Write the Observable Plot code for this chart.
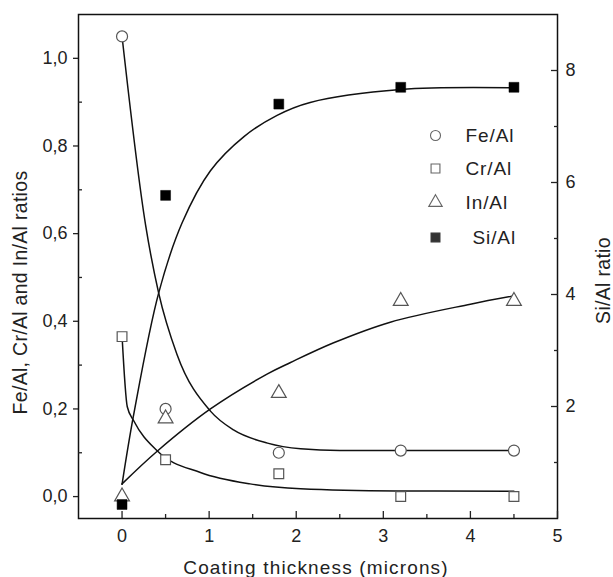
<!DOCTYPE html>
<html><head><meta charset="utf-8">
<script src="https://cdn.jsdelivr.net/npm/d3@7"></script>
<script src="https://cdn.jsdelivr.net/npm/@observablehq/plot@0.6"></script>
<style>body{margin:0;background:#fff} #chart svg{display:block}</style>
</head><body><div id="chart"></div>
<script>
// measured data points
const thickness = [0, 0.5, 1.8, 3.2, 4.5];
const feAl = [1.05, 0.20, 0.10, 0.105, 0.105];
const crAl = [0.365, 0.084, 0.052, 0.0, 0.0];
const inAl = [0.0, 0.178, 0.236, 0.446, 0.446];
const siAl = [0.25, 5.77, 7.40, 7.70, 7.70];   // right axis

// fitted curves
const feFitX = [0, 0.27, 0.42, 0.63, 1.015, 1.28, 1.67, 2.05, 2.5, 3.2, 4.5];
const feFitY = [1.05, 0.62, 0.465, 0.325, 0.195, 0.152, 0.122, 0.109, 0.105, 0.105, 0.105];
const crFitX = [0, 0.06, 0.134, 0.40, 0.9, 1.47, 2.05, 3.16, 4.5];
const crFitY = [0.367, 0.205, 0.173, 0.105, 0.055, 0.029, 0.018, 0.013, 0.012];
const inFitX = [0, 0.4, 1.015, 1.67, 1.935, 2.43, 3.08, 4.0, 4.5];
const inFitY = [0.029, 0.103, 0.2, 0.28, 0.306, 0.351, 0.398, 0.439, 0.458];
const siFitX = [0, 0.133, 0.421, 0.69, 1.015, 1.40, 1.78, 2.16, 3.2, 4.5];
const siFitY = [0.61, 1.85, 4.03, 5.28, 6.21, 6.82, 7.20, 7.43, 7.66, 7.69]; // right axis

// axes
const xMajor = [0, 1, 2, 3, 4, 5];
const xMinor = [0.5, 1.5, 2.5, 3.5, 4.5];
const xTickLabels = ["0", "1", "2", "3", "4", "5"];
const yMajor = [0, 0.2, 0.4, 0.6, 0.8, 1.0];
const yMinor = [0.1, 0.3, 0.5, 0.7, 0.9];
const yTickLabels = ["0,0", "0,2", "0,4", "0,6", "0,8", "1,0"];
const rMajor = [2, 4, 6, 8];
const rMinor = [1, 3, 5, 7];
const rTickLabels = ["2", "4", "6", "8"];
const xLabel = "Coating thickness (microns)";
const yLabel = "Fe/Al, Cr/Al and In/Al ratios";
const rLabel = "Si/Al ratio";
const legendLabels = ["Fe/Al", "Cr/Al", "In/Al", "Si/Al"];

const yMin = -0.05, yMax = 1.1, rMax = 9;
const toLeft = v => yMin + v * (yMax - yMin) / rMax;
const pts = (xs, ys) => xs.map((x, i) => ({x, y: ys[i]}));

const font = "Liberation Sans, Arial, sans-serif";
const lineStyle = {x: "x", stroke: "#111", strokeWidth: 1.5};
const hollow = {fill: "white", stroke: "#555", strokeWidth: 1.2, r: 5.5};
const txt = {fontFamily: font, fill: "#222", lineAnchor: "middle"};

const marks = [
  Plot.frame({stroke: "#111", strokeWidth: 1.5}),
  // ticks
  Plot.axisX(xMajor, {tickSize: 7, dy: -7, text: null, label: null, strokeWidth: 1.3}),
  Plot.axisX(xMinor, {tickSize: 4, dy: -4, text: null, label: null, strokeWidth: 1.3}),
  Plot.axisY(yMajor, {anchor: "left", tickSize: 5, text: null, label: null, strokeWidth: 1.3}),
  Plot.axisY(yMinor, {anchor: "left", tickSize: 4, dx: 4, text: null, label: null, strokeWidth: 1.3}),
  Plot.axisY(rMajor.map(toLeft), {anchor: "right", tickSize: 7, dx: -7, text: null, label: null, strokeWidth: 1.3}),
  Plot.axisY(rMinor.map(toLeft), {anchor: "right", tickSize: 4, dx: -4, text: null, label: null, strokeWidth: 1.3}),
  // tick labels
  Plot.text(xMajor, {x: d => d, text: (d, i) => xTickLabels[i], frameAnchor: "bottom", dy: 18, textAnchor: "middle", fontSize: 18, ...txt}),
  Plot.text(yMajor, {y: d => d, text: (d, i) => yTickLabels[i], frameAnchor: "left", dx: -11, textAnchor: "end", fontSize: 18, ...txt}),
  Plot.text(rMajor, {y: d => toLeft(d), text: (d, i) => rTickLabels[i], frameAnchor: "right", dx: 8, textAnchor: "start", fontSize: 18, ...txt}),
  // axis titles
  Plot.text([xLabel], {x: null, y: null, text: d => d, frameAnchor: "bottom", dy: 49, dx: -2, textAnchor: "middle", fontSize: 19, ...txt}),
  Plot.text([yLabel], {x: null, y: null, text: d => d, frameAnchor: "left", dx: -58, dy: 26, rotate: -90, textAnchor: "middle", fontSize: 19.5, ...txt}),
  Plot.text([rLabel], {x: null, y: null, text: d => d, frameAnchor: "right", dx: 46, dy: 14, rotate: -90, textAnchor: "middle", fontSize: 19.5, ...txt}),
  // fitted curves
  Plot.line(pts(feFitX, feFitY), {...lineStyle, y: "y", curve: "monotone-x"}),
  Plot.line(pts(crFitX, crFitY), {...lineStyle, y: "y", curve: "monotone-x"}),
  Plot.line(pts(inFitX, inFitY), {...lineStyle, y: "y", curve: "catmull-rom"}),
  Plot.line(pts(siFitX, siFitY), {...lineStyle, y: d => toLeft(d.y), curve: "catmull-rom"}),
  // data points
  Plot.dot(pts(thickness, feAl), {x: "x", y: "y", symbol: "circle", ...hollow}),
  Plot.dot(pts(thickness, crAl), {x: "x", y: "y", symbol: "square", ...hollow}),
  Plot.dot(pts(thickness, inAl), {x: "x", y: "y", symbol: "triangle", ...hollow}),
  Plot.dot(pts(thickness, siAl), {x: "x", y: d => toLeft(d.y), symbol: "square", r: 5.6, fill: "#000", stroke: "#000", strokeWidth: 0.5})
];

// legend
const legendSymbols = ["circle", "square", "triangle", "square"];
const legendDy = [121, 154, 188, 223];
const legendTextDx = [387, 387, 387, 394];
legendLabels.forEach((lab, i) => {
  const filled = i === 3;
  marks.push(Plot.dot([lab], {x: null, y: null, frameAnchor: "top-left", dx: 357, dy: legendDy[i], symbol: legendSymbols[i],
    r: 5, fill: filled ? "#333" : "white", stroke: filled ? "#333" : "#666", strokeWidth: 1.1}));
  marks.push(Plot.text([lab], {x: null, y: null, text: d => d, frameAnchor: "top-left", dx: legendTextDx[i], dy: legendDy[i],
    textAnchor: "start", fontSize: 19, ...txt}));
});

const chart = Plot.plot({
  width: 613,
  height: 577,
  marginLeft: 78,
  marginRight: 56,
  marginTop: 14,
  marginBottom: 59,
  x: {domain: [-0.5, 5]},
  y: {domain: [yMin, yMax]},
  style: {fontFamily: font, background: "white", color: "#222"},
  marks
});

// widen the letter spacing of the titles and legend to match the reference typesetting
const spacing = new Map([[xLabel, "1.15px"], [yLabel, "0.3px"], [rLabel, "0.3px"]]);
legendLabels.forEach(l => spacing.set(l, "0.9px"));
d3.select(chart).selectAll("text").each(function () {
  const s = spacing.get(this.textContent);
  if (s) this.setAttribute("letter-spacing", s);
});
document.getElementById("chart").appendChild(chart);
</script>
</body></html>
